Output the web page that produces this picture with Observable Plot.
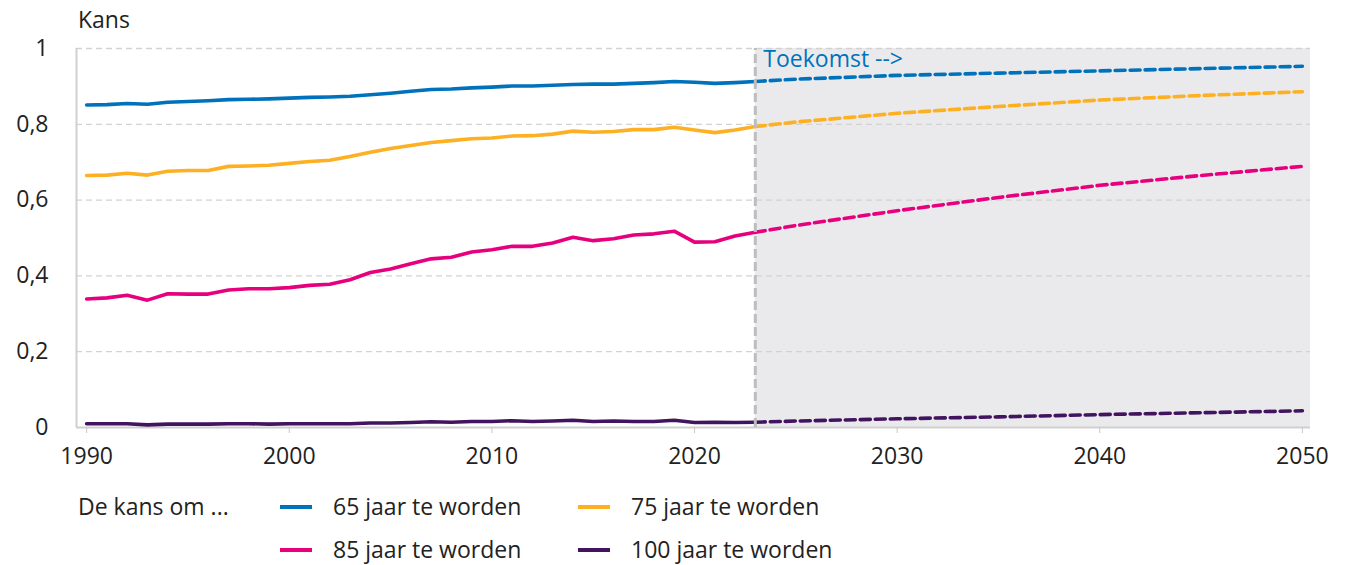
<!DOCTYPE html>
<html>
<head>
<meta charset="utf-8">
<script src="https://cdn.jsdelivr.net/npm/d3@7"></script>
<script src="https://cdn.jsdelivr.net/npm/@observablehq/plot@0.6"></script>
<style>
  html, body { margin: 0; padding: 0; background: #fff; }
  body { font-family: "Open Sans", sans-serif; color: #222; }
  #wrap { position: relative; width: 1348px; height: 565px; }
  #chart { position: absolute; left: 0; top: 0; }
  .abs { position: absolute; font-size: 23px; line-height: 1; white-space: nowrap; color: #222; }
  .sw { position: absolute; width: 32px; height: 4px; }
</style>
</head>
<body>
<div id="wrap">
  <div id="chart"></div>
  <div class="abs" style="left:78px; top:8px;">Kans</div>
  <div id="legend"></div>
</div>
<script>
// ---- Data ----
const histYears = [1990,1991,1992,1993,1994,1995,1996,1997,1998,1999,2000,2001,2002,2003,2004,2005,2006,2007,2008,2009,2010,2011,2012,2013,2014,2015,2016,2017,2018,2019,2020,2021,2022,2023];
const hist65  = [0.851,0.852,0.855,0.853,0.858,0.860,0.862,0.865,0.866,0.867,0.869,0.871,0.872,0.874,0.878,0.882,0.887,0.892,0.893,0.896,0.898,0.901,0.901,0.903,0.905,0.906,0.906,0.908,0.910,0.913,0.911,0.908,0.910,0.913];
const hist75  = [0.665,0.666,0.671,0.666,0.676,0.678,0.678,0.689,0.690,0.692,0.697,0.702,0.705,0.715,0.726,0.736,0.744,0.752,0.757,0.762,0.764,0.769,0.770,0.774,0.782,0.779,0.781,0.786,0.786,0.792,0.785,0.778,0.785,0.794];
const hist85  = [0.339,0.342,0.349,0.336,0.353,0.352,0.352,0.363,0.366,0.366,0.369,0.375,0.378,0.390,0.409,0.418,0.432,0.445,0.449,0.463,0.469,0.478,0.478,0.487,0.502,0.493,0.498,0.508,0.511,0.518,0.489,0.490,0.505,0.515];
const hist100 = [0.010,0.010,0.010,0.007,0.009,0.009,0.009,0.010,0.010,0.009,0.010,0.010,0.010,0.010,0.012,0.012,0.013,0.015,0.014,0.016,0.016,0.018,0.016,0.017,0.019,0.016,0.017,0.016,0.016,0.019,0.013,0.014,0.013,0.014];

const projYears = [2023,2025,2030,2035,2040,2045,2050];
const proj65  = [0.913,0.919,0.929,0.935,0.941,0.947,0.953];
const proj75  = [0.794,0.806,0.829,0.847,0.864,0.876,0.886];
const proj85  = [0.515,0.533,0.572,0.607,0.639,0.665,0.689];
const proj100 = [0.014,0.017,0.023,0.028,0.034,0.039,0.044];

const seriesNames = ["65 jaar te worden","75 jaar te worden","85 jaar te worden","100 jaar te worden"];
const seriesColors = ["#0072bb","#fdb022","#e6007e","#42145f"];
const xTicks = [1990,2000,2010,2020,2030,2040,2050];
const yTicks = [0,0.2,0.4,0.6,0.8,1];
const futureLabel = "Toekomst -->";
const legendTitle = "De kans om ...";

// ---- Build tables ----
const histSets = [hist65, hist75, hist85, hist100];
const projSets = [proj65, proj75, proj85, proj100];
const hist = [], proj = [];
seriesNames.forEach((s, i) => {
  histYears.forEach((yr, j) => hist.push({year: yr, value: histSets[i][j], series: s}));
  projYears.forEach((yr, j) => proj.push({year: yr, value: projSets[i][j], series: s}));
});
const futureStart = projYears[0];
const xDomain = [1989.5, 2050.4];

const chart = Plot.plot({
  width: 1348,
  height: 470,
  marginLeft: 76,
  marginRight: 38,
  marginTop: 48,
  marginBottom: 43,
  style: {fontFamily: "Open Sans, sans-serif", fontSize: "23px", color: "#222", background: "transparent"},
  x: {domain: xDomain},
  y: {domain: [0, 1]},
  color: {domain: seriesNames, range: seriesColors},
  marks: [
    Plot.rect([{x1: futureStart, x2: xDomain[1]}], {x1: "x1", x2: "x2", y1: 0, y2: 1, fill: "#eaeaed"}),
    Plot.ruleY(yTicks.filter(d => d > 0), {stroke: "#d2d2d2", strokeWidth: 1.3, strokeDasharray: "6,4"}),
    Plot.ruleY([0], {stroke: "#d0d0d0", strokeWidth: 2}),
    Plot.ruleX([xDomain[0]], {y1: 0, y2: 1, stroke: "#d0d0d0", strokeWidth: 2}),
    Plot.axisX({ticks: xTicks, tickFormat: d => String(d), tickSize: 6, tickPadding: 14, stroke: "#c8c8c8", fontSize: 23, fill: "#222", label: null}),
    Plot.axisY({ticks: yTicks, tickFormat: d => String(d).replace(".", ","), tickSize: 0, tickPadding: 28, fontSize: 23, fill: "#222", label: null}),
    Plot.line(proj, {x: "year", y: "value", stroke: "series", strokeWidth: 3.6, strokeDasharray: "10,5"}),
    Plot.line(hist, {x: "year", y: "value", stroke: "series", strokeWidth: 3.6}),
    Plot.ruleX([futureStart], {y1: 0, y2: 1, stroke: "#bdbdc0", strokeWidth: 3, strokeDasharray: "9,4"}),
    Plot.text([futureLabel], {x: futureStart, y: 1, text: d => d, dx: 8, dy: 2, textAnchor: "start", lineAnchor: "top", fill: "#0072bb", fontSize: 23})
  ]
});
document.getElementById("chart").appendChild(chart);

// ---- Legend ----
const legend = document.getElementById("legend");
const title = document.createElement("div");
title.className = "abs";
title.style.left = "78px"; title.style.top = "495px";
title.textContent = legendTitle;
legend.appendChild(title);
const cols = [280, 578], rows = [507, 550];
seriesNames.forEach((s, i) => {
  const cx = cols[i % 2], cy = rows[Math.floor(i / 2)];
  const sw = document.createElement("div");
  sw.className = "sw";
  sw.style.left = cx + "px"; sw.style.top = (cy - 2) + "px";
  sw.style.background = seriesColors[i];
  legend.appendChild(sw);
  const t = document.createElement("div");
  t.className = "abs";
  t.style.left = (cx + 53) + "px"; t.style.top = (cy - 12) + "px";
  t.textContent = s;
  legend.appendChild(t);
});
</script>
</body>
</html>
